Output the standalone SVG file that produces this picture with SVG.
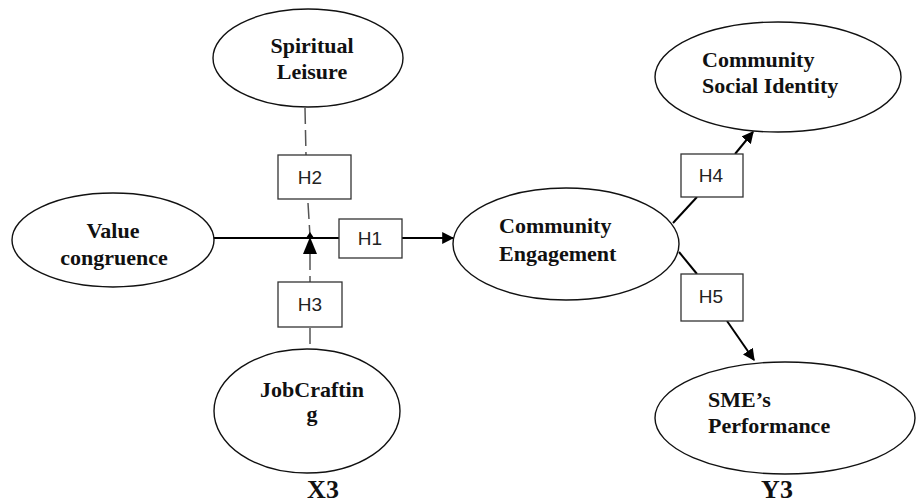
<svg xmlns="http://www.w3.org/2000/svg" width="922" height="504" viewBox="0 0 922 504">
<defs>
<style>
.node ellipse{fill:#fff;stroke:#111;stroke-width:1.4}
.lbl{font-family:"Liberation Serif","Times New Roman",serif;font-weight:bold;font-size:22px;fill:#111}
.big{font-family:"Liberation Serif","Times New Roman",serif;font-weight:bold;font-size:26px;fill:#111}
.hbox rect{fill:#fff;stroke:#333;stroke-width:1.3}
.hbox text{font-family:"Liberation Sans",Arial,sans-serif;font-size:19px;fill:#222;text-anchor:middle}
.solid{stroke:#000;stroke-width:2;fill:none}
.dash{stroke:#555;stroke-width:1.5;fill:none;stroke-dasharray:16 6}
</style>
<marker id="arr" viewBox="0 0 10 10" refX="9" refY="5" markerWidth="6" markerHeight="6" orient="auto" markerUnits="strokeWidth">
<path d="M0,0 L10,5 L0,10 z" fill="#000"/>
</marker>
</defs>
<rect width="922" height="504" fill="#fff"/>
<g id="connectors">
<line class="solid" x1="214" y1="238" x2="339" y2="238"/>
<line class="solid" x1="402" y1="238" x2="453" y2="238" marker-end="url(#arr)"/>
<line class="dash" x1="305" y1="108" x2="306" y2="155"/>
<line class="dash" x1="308" y1="203" x2="310" y2="236"/>
<path d="M310,232 L306,238 L314,238 z" fill="#000"/>
<path d="M310,237 L303,254 L317,254 z" fill="#000"/>
<line class="dash" x1="310" y1="254" x2="310" y2="282" stroke-dasharray="0 8 20 4"/>
<line class="dash" x1="310" y1="328" x2="310" y2="349" stroke-dasharray="3 4 20 4"/>
<line class="solid" x1="673" y1="223" x2="697" y2="197"/>
<line class="solid" x1="735" y1="154" x2="753" y2="132" marker-end="url(#arr)"/>
<line class="solid" x1="679" y1="252" x2="697" y2="274"/>
<line class="solid" x1="727" y1="321" x2="754" y2="360" marker-end="url(#arr)"/>
</g>
<g id="spiritual-leisure" class="node">
<ellipse cx="308" cy="58" rx="95" ry="49"/>
<text class="lbl" x="312" y="53" text-anchor="middle">Spiritual</text>
<text class="lbl" x="312" y="79" text-anchor="middle">Leisure</text>
</g>
<g id="value-congruence" class="node">
<ellipse cx="113" cy="240" rx="101" ry="47"/>
<text class="lbl" x="113" y="238" text-anchor="middle">Value</text>
<text class="lbl" x="114" y="265" text-anchor="middle">congruence</text>
</g>
<g id="job-crafting" class="node">
<ellipse cx="307" cy="411" rx="93" ry="62"/>
<text class="lbl" x="312" y="397" text-anchor="middle">JobCraftin</text>
<text class="lbl" x="312" y="421" text-anchor="middle">g</text>
</g>
<g id="community-engagement" class="node">
<ellipse cx="566" cy="244" rx="113" ry="56"/>
<text class="lbl" x="499" y="233">Community</text>
<text class="lbl" x="499" y="261">Engagement</text>
</g>
<g id="community-social-identity" class="node">
<ellipse cx="778" cy="77" rx="123" ry="55"/>
<text class="lbl" x="702" y="67">Community</text>
<text class="lbl" x="702" y="93">Social Identity</text>
</g>
<g id="sme-performance" class="node">
<ellipse cx="785" cy="418" rx="130" ry="56"/>
<text class="lbl" x="708" y="407">SME’s</text>
<text class="lbl" x="708" y="433">Performance</text>
</g>
<g id="h1" class="hbox"><rect x="339" y="219" width="63" height="39"/><text x="370" y="245">H1</text></g>
<g id="h2" class="hbox"><rect x="278" y="155" width="73" height="44"/><text x="310" y="184">H2</text></g>
<g id="h3" class="hbox"><rect x="278" y="282" width="64" height="45"/><text x="310" y="311">H3</text></g>
<g id="h4" class="hbox"><rect x="681" y="154" width="62" height="43"/><text x="711" y="182">H4</text></g>
<g id="h5" class="hbox"><rect x="681" y="274" width="62" height="47"/><text x="711" y="303">H5</text></g>
<text class="big" x="323" y="498" text-anchor="middle">X3</text>
<text class="big" x="777" y="498" text-anchor="middle">Y3</text>
</svg>
